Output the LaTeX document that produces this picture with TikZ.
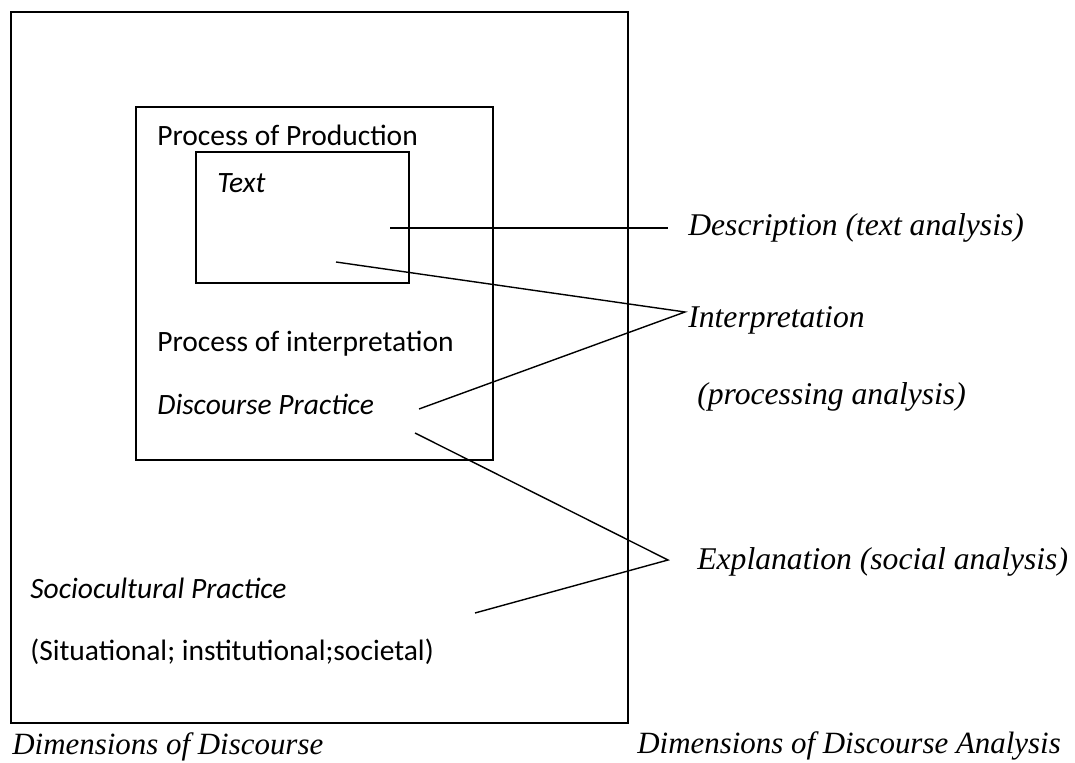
\documentclass[tikz,border=0pt]{standalone}
\usepackage{fontspec}
\setmainfont{Liberation Serif}
\newfontfamily\calib{Carlito}

\begin{document}
\begin{tikzpicture}[x=0.02cm,y=-0.02cm]
\tikzset{box/.style = {draw,line width=1pt}}
\tikzset{inlabel/.style = {anchor=west,inner sep=0pt,font=\calib\fontsize{16.8}{18}\selectfont}}
\tikzset{initalic/.style = {inlabel,font=\calib\itshape\fontsize{16.8}{18}\selectfont}}
\tikzset{outlabel/.style = {anchor=west,inner sep=0pt,font=\itshape\fontsize{18}{20}\selectfont}}
\tikzset{caption/.style = {outlabel,font=\itshape\fontsize{17.6}{20}\selectfont}}
\tikzset{edge/.style = {-,line width=0.8pt}}
\useasboundingbox (0,0) rectangle (1075,763);
% boxes
\draw[box] (11,12) rectangle (628,723);
\draw[box] (136,107) rectangle (493,460);
\draw[box] (196,152) rectangle (409,283);

% labels inside
\node[inlabel] (production) at (157,135) {Process of Production};
\node[initalic] (text) at (217,183) {Text};
\node[inlabel] (interp) at (157,344) {Process of interpretation};
\node[initalic] (discourse) at (157,404) {Discourse Practice};
\node[initalic] (socio) at (30,588) {Sociocultural Practice};
\node[inlabel] (situ) at (30,652) {(Situational; institutional;societal)};

% labels outside
\node[outlabel] (description) at (688,228) {Description (text analysis)};
\node[outlabel] (interpretation) at (688,320) {Interpretation};
\node[outlabel] (processing) at (697,397) {(processing analysis)};
\node[outlabel] (explanation) at (697,562) {Explanation (social analysis)};
\node[caption] (dimleft) at (12,747) {Dimensions of Discourse};
\node[caption] (dimright) at (637,746) {Dimensions of Discourse Analysis};

% line ends
\coordinate (textA) at (390,228);
\coordinate (textB) at (336,262);
\coordinate (practiceA) at (419,409);
\coordinate (practiceB) at (415,433);
\coordinate (sociopt) at (475,613);
\coordinate (descpt) at (668,228);
\coordinate (interppt) at (685,312);
\coordinate (explpt) at (668,560);

%lines
\draw[edge] (textA) -- (descpt);
\draw[edge] (textB) -- (interppt) -- (practiceA);
\draw[edge] (practiceB) -- (explpt) -- (sociopt);
\end{tikzpicture}
\end{document}
